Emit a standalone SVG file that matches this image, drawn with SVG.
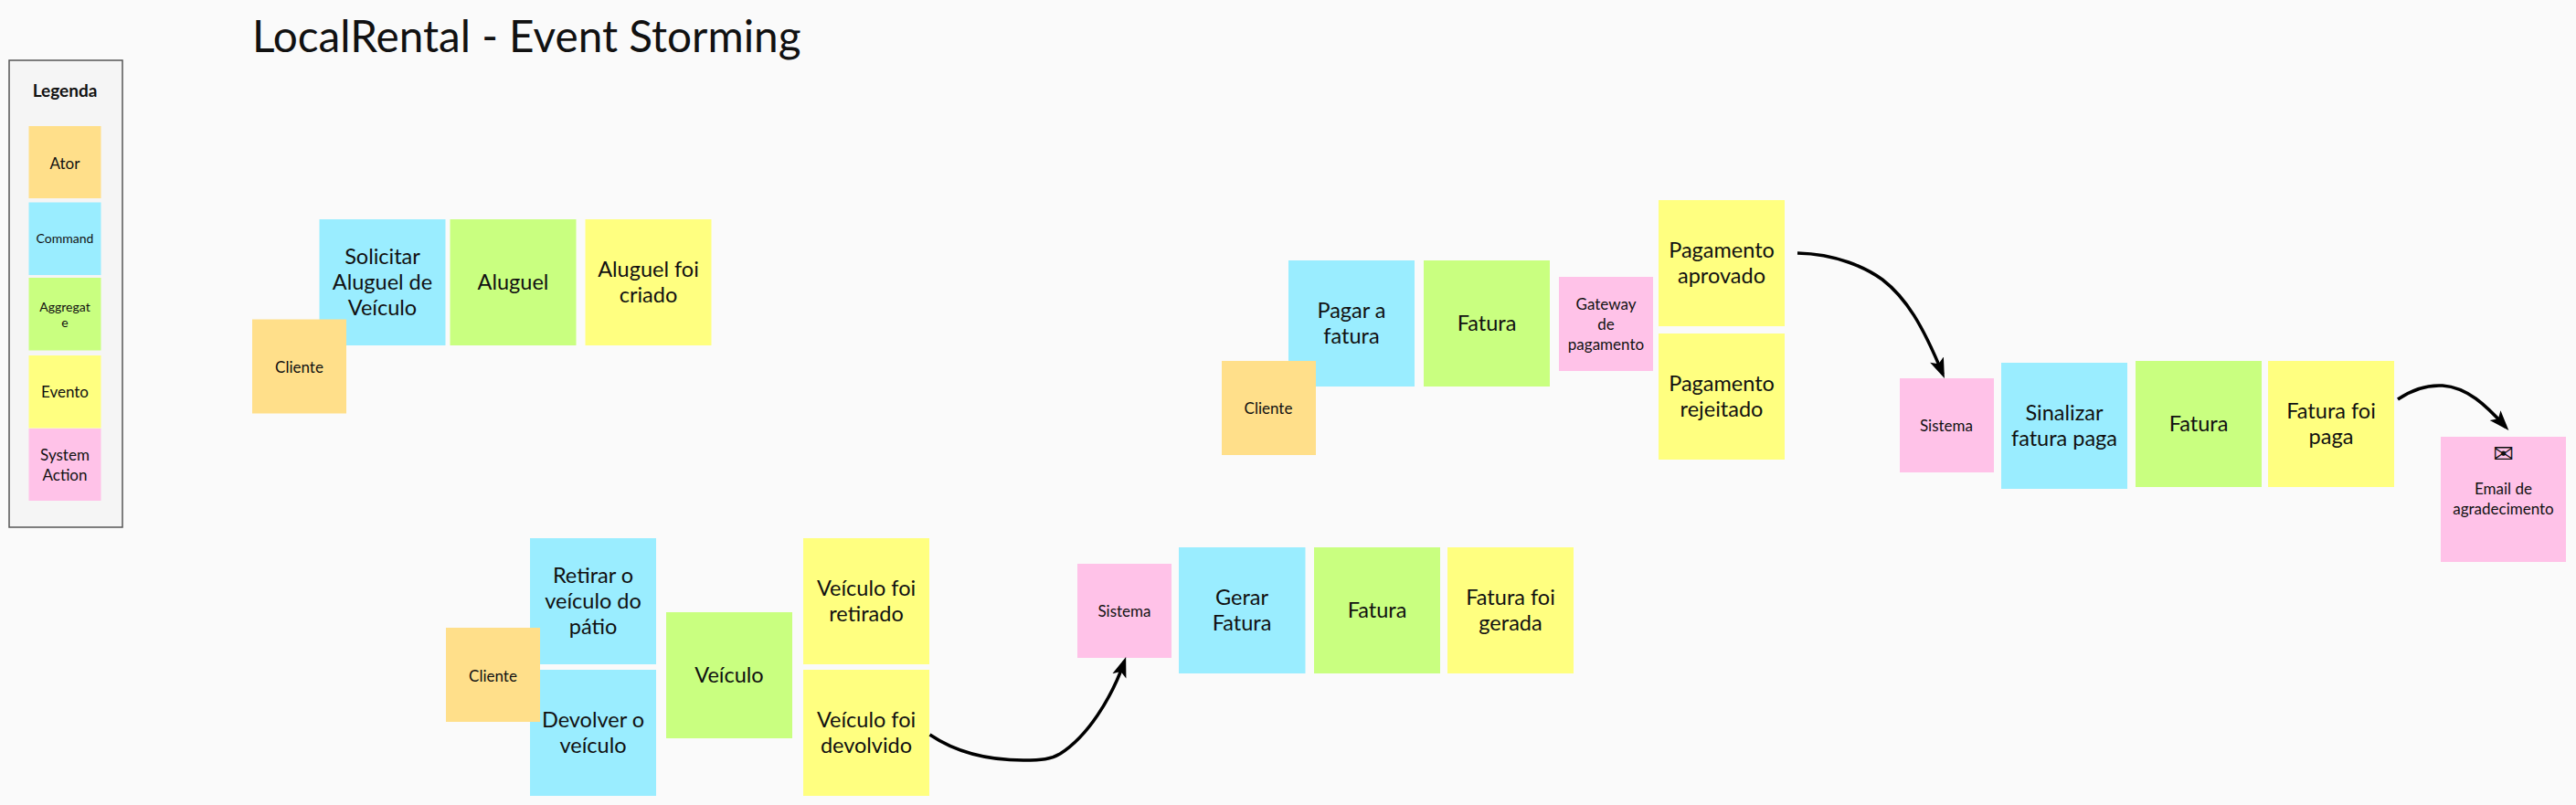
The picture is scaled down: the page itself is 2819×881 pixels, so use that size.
<svg xmlns="http://www.w3.org/2000/svg" width="2819" height="881" viewBox="0 0 2819 881">
<defs>
<marker id="ah" viewBox="0 0 24 24" refX="17" refY="12" markerUnits="userSpaceOnUse" markerWidth="24" markerHeight="24" orient="auto"><path d="M0 4 L22 12 L0 20 L5 12 Z" fill="#000"/></marker>
</defs>
<style>
text{font-family:"Lato","Liberation Sans",sans-serif;fill:#111;text-anchor:middle;dominant-baseline:central;transform:translateY(-1.5px)}
.c{fill:#9aedff}.g{fill:#c9ff80}.y{fill:#ffff80}.o{fill:#ffdf8a}.p{fill:#ffc2e8}
.l{font-size:23.5px}.m{font-size:17px}.s{font-size:16px}
.conn{fill:none;stroke:#000;stroke-width:3.5;marker-end:url(#ah)}
</style>
<rect width="2819" height="881" fill="#fafafa"/>
<text id="title" x="276" y="40" style="font-size:47.7px;text-anchor:start">LocalRental - Event Storming</text>
<g id="legend">
<rect x="10" y="66" width="124" height="511" fill="#f5f5f5" stroke="#555" stroke-width="1.5"/>
<text x="71" y="100" style="font-size:19px;font-weight:700">Legenda</text>
</g>
<g id="leg-ator"><rect class="o" x="31.5" y="138" width="79" height="79"/><text class="m" x="71" y="179.500">Ator</text></g>
<g id="leg-command"><rect class="c" x="31.5" y="221.5" width="79" height="79.5"/><text x="71" y="262" style="font-size:14px">Command</text></g>
<g id="leg-aggregate"><rect class="g" x="31.5" y="304" width="79" height="79.5"/><text x="71" y="337" style="font-size:14px">Aggregat</text><text x="71" y="354" style="font-size:14px">e</text></g>
<g id="leg-evento"><rect class="y" x="31.5" y="389" width="79" height="79.5"/><text class="m" x="71" y="430">Evento</text></g>
<g id="leg-system"><rect class="p" x="31.5" y="469" width="79" height="79"/><text class="m" x="71" y="499">System</text><text class="m" x="71" y="521">Action</text></g>

<g id="n1"><rect class="c" x="349.5" y="240" width="138" height="138"/><text class="l" x="418.5" y="281">Solicitar</text><text class="l" x="418.5" y="309">Aluguel de</text><text class="l" x="418.5" y="337">Veículo</text></g>
<g id="n2"><rect class="g" x="492.5" y="240" width="138" height="138"/><text class="l" x="561.5" y="309">Aluguel</text></g>
<g id="n3"><rect class="y" x="640.5" y="240" width="138" height="138"/><text class="l" x="709.5" y="295">Aluguel foi</text><text class="l" x="709.5" y="323">criado</text></g>
<g id="n4"><rect class="o" x="276" y="349.5" width="103" height="103"/><text class="m" x="327.5" y="402.500">Cliente</text></g>

<g id="n5"><rect class="c" x="1410" y="285" width="138" height="138"/><text class="l" x="1479" y="340.5">Pagar a</text><text class="l" x="1479" y="368.5">fatura</text></g>
<g id="n6"><rect class="g" x="1558" y="285" width="138" height="138"/><text class="l" x="1627" y="354">Fatura</text></g>
<g id="n7"><rect class="p" x="1706" y="303" width="103" height="103"/><text class="m" x="1757.5" y="333.5">Gateway</text><text class="m" x="1757.5" y="355.5">de</text><text class="m" x="1757.5" y="377.5">pagamento</text></g>
<g id="n8"><rect class="y" x="1815" y="219" width="138" height="138"/><text class="l" x="1884" y="274">Pagamento</text><text class="l" x="1884" y="302">aprovado</text></g>
<g id="n9"><rect class="y" x="1815" y="365" width="138" height="138"/><text class="l" x="1884" y="420">Pagamento</text><text class="l" x="1884" y="448">rejeitado</text></g>
<g id="n10"><rect class="o" x="1337" y="395" width="103" height="103"/><text class="m" x="1388" y="447.500">Cliente</text></g>

<g id="n11"><rect class="p" x="2079" y="414" width="103" height="103"/><text class="m" x="2130" y="466.500">Sistema</text></g>
<g id="n12"><rect class="c" x="2190" y="397" width="138" height="138"/><text class="l" x="2259" y="452.5">Sinalizar</text><text class="l" x="2259" y="480.5">fatura paga</text></g>
<g id="n13"><rect class="g" x="2337" y="395" width="138" height="138"/><text class="l" x="2406" y="464">Fatura</text></g>
<g id="n14"><rect class="y" x="2482" y="395" width="138" height="138"/><text class="l" x="2551" y="450">Fatura foi</text><text class="l" x="2551" y="478.5">paga</text></g>
<g id="n15"><rect class="p" x="2671" y="478" width="137" height="137"/><text x="2739.5" y="498" style="font-size:27px;font-family:'DejaVu Sans',sans-serif">✉</text><text class="m" x="2739.5" y="535.5">Email de</text><text class="m" x="2739.5" y="557.5">agradecimento</text></g>

<g id="n16"><rect class="c" x="580" y="589" width="138" height="138"/><text class="l" x="649" y="630.5">Retirar o</text><text class="l" x="649" y="658.5">veículo do</text><text class="l" x="649" y="686.5">pátio</text></g>
<g id="n17"><rect class="c" x="580" y="733" width="138" height="138"/><text class="l" x="649" y="788">Devolver o</text><text class="l" x="649" y="816">veículo</text></g>
<g id="n18"><rect class="o" x="488" y="687" width="103" height="103"/><text class="m" x="539.5" y="740.500">Cliente</text></g>
<g id="n19"><rect class="g" x="729" y="670" width="138" height="138"/><text class="l" x="798" y="739">Veículo</text></g>
<g id="n20"><rect class="y" x="879" y="589" width="138" height="138"/><text class="l" x="948" y="644">Veículo foi</text><text class="l" x="948" y="672">retirado</text></g>
<g id="n21"><rect class="y" x="879" y="733" width="138" height="138"/><text class="l" x="948" y="788">Veículo foi</text><text class="l" x="948" y="816">devolvido</text></g>
<g id="n22"><rect class="p" x="1179" y="617" width="103" height="103"/><text class="m" x="1230.5" y="669.500">Sistema</text></g>
<g id="n23"><rect class="c" x="1290" y="599" width="138.500" height="138"/><text class="l" x="1359" y="654">Gerar</text><text class="l" x="1359" y="682">Fatura</text></g>
<g id="n24"><rect class="g" x="1438" y="599" width="138" height="138"/><text class="l" x="1507" y="668">Fatura</text></g>
<g id="n25"><rect class="y" x="1584" y="599" width="138" height="138"/><text class="l" x="1653" y="654">Fatura foi</text><text class="l" x="1653" y="682">gerada</text></g>

<g id="connectors">
<path class="conn" d="M1967 277 C2010 278 2042 293 2060 306 C2086 326 2104 356 2126 409.300"/>
<path class="conn" d="M2624 437 C2640 426 2655 421 2673 422 C2700 424 2720 443 2742 467.200"/>
<path class="conn" d="M1017.500 804 C1050 826 1085 832 1120 832 C1140 832 1150 831 1160 825 C1190 806 1216 765 1230.500 723.800"/>
</g>
</svg>
